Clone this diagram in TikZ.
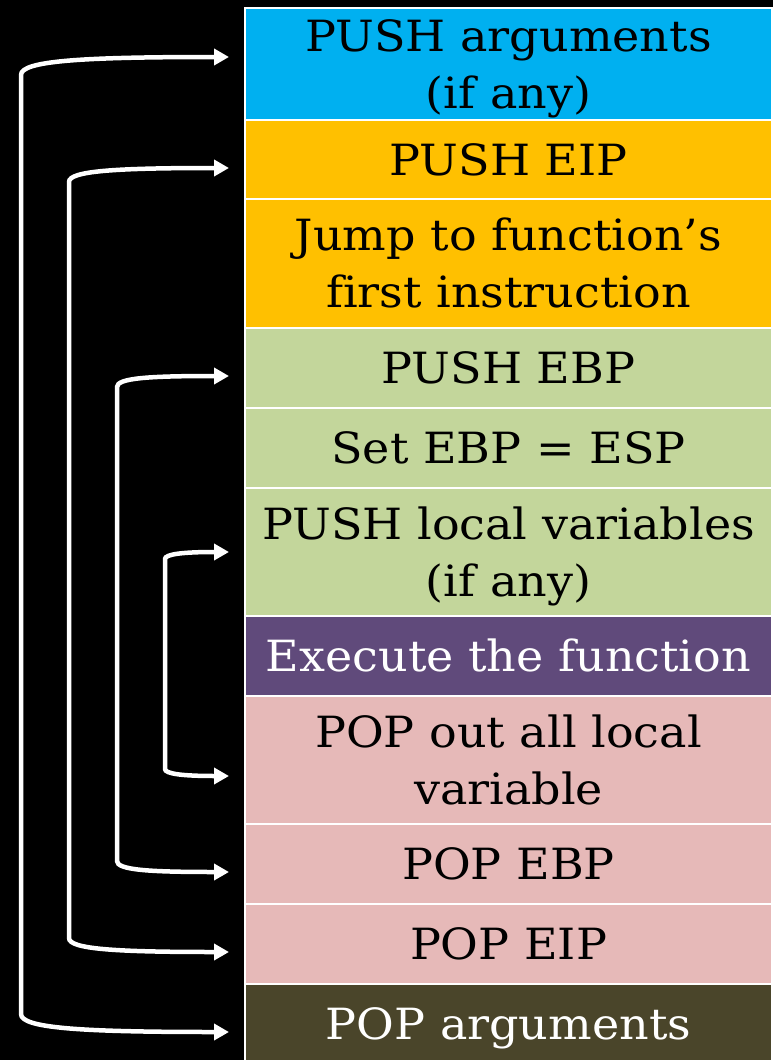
\documentclass[tikz,border=0pt]{standalone}
\usepackage{fontspec}
\setmainfont[Ligatures=CommonOff,FakeStretch=1.07]{DejaVu Serif}
\usetikzlibrary{arrows.meta,calc}
\definecolor{cblue}{HTML}{00B0F0}
\definecolor{cyellow}{HTML}{FFC000}
\definecolor{cgreen}{HTML}{C3D69B}
\definecolor{cpurple}{HTML}{604A7B}
\definecolor{cpink}{HTML}{E6B9B8}
\definecolor{colive}{HTML}{4A452A}
\begin{document}
\begin{tikzpicture}[x=1pt,y=-1pt,
  cell/.style={draw=white, line width=2pt, minimum width=527pt, outer sep=0pt,
    inner sep=0pt, align=center, font=\fontsize{43}{57}\selectfont, text=black,
    text height=31.3pt, text depth=0pt},
  two/.style={text height=88.3pt},
  cellw/.style={cell, text=white},
  arr/.style={draw=white, line width=4.5pt,
    {Triangle[length=15pt,width=16pt]}-{Triangle[length=15pt,width=16pt]}}]
\fill[black] (0,0) rectangle (773,1060);
\useasboundingbox (0,0) rectangle (773,1060);
\node[cell, two, fill=cblue, minimum height=112pt] (n1) at (508.5,64) {PUSH arguments\\(if any)};
\node[cell, fill=cyellow, minimum height=79pt] (n2) at (508.5,159.5) {PUSH EIP};
\node[cell, two, fill=cyellow, minimum height=129pt] (n3) at (508.5,263.5) {Jump to function’s\\first instruction};
\node[cell, fill=cgreen, minimum height=80pt] (n4) at (508.5,368) {PUSH EBP};
\node[cell, fill=cgreen, minimum height=80pt] (n5) at (508.5,448) {Set EBP = ESP};
\node[cell, two, fill=cgreen, minimum height=128pt] (n6) at (508.5,552) {PUSH local variables\\(if any)};
\node[cellw, fill=cpurple, minimum height=80pt] (n7) at (508.5,656) {Execute the function};
\node[cell, two, fill=cpink, minimum height=128pt] (n8) at (508.5,760) {POP out all local\\variable};
\node[cell, fill=cpink, minimum height=80pt] (n9) at (508.5,864) {POP EBP};
\node[cell, fill=cpink, minimum height=80pt] (n10) at (508.5,944) {POP EIP};
\node[cellw, fill=colive, minimum height=80pt] (n11) at (508.5,1024) {POP arguments};
\coordinate (t1) at ($(n1.west)+(-16,-7)$);
\coordinate (b1) at ($(n11.west)+(-16,8)$);
\coordinate (t2) at ($(n2.west)+(-16,8.5)$);
\coordinate (b2) at ($(n10.west)+(-16,8)$);
\coordinate (t3) at ($(n4.west)+(-16,8)$);
\coordinate (b3) at ($(n9.west)+(-16,8)$);
\coordinate (t4) at ($(n6.west)+(-16,0)$);
\coordinate (b4) at ($(n8.west)+(-16,16)$);
\draw[arr] (t1) .. controls +(-150,0) and +(0,-14) .. ($(t1)+(-208,18)$)
  -- ($(b1)+(-208,-18)$) .. controls +(0,14) and +(-150,0) .. (b1);
\draw[arr] (t2) .. controls +(-115,0) and +(0,-11) .. ($(t2)+(-160,14)$)
  -- ($(b2)+(-160,-14)$) .. controls +(0,11) and +(-115,0) .. (b2);
\draw[arr] (t3) .. controls +(-80,0) and +(0,-9) .. ($(t3)+(-112,11)$)
  -- ($(b3)+(-112,-11)$) .. controls +(0,9) and +(-80,0) .. (b3);
\draw[arr] (t4) .. controls +(-45,0) and +(0,-5) .. ($(t4)+(-64,7)$)
  -- ($(b4)+(-64,-7)$) .. controls +(0,5) and +(-45,0) .. (b4);
\end{tikzpicture}
\end{document}
